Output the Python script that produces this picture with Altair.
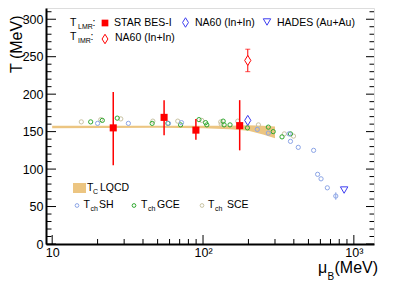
import altair as alt
import pandas as pd

# ---------------- data ----------------
star_mu = [25.4, 55.2, 89.7, 175]
star_T = [155, 169, 152, 158]
star_lo = [105, 145, 139, 125]
star_hi = [203, 192, 167, 192]

na60_lmr_mu = [198]
na60_lmr_T = [165]
na60_imr_mu = [198]
na60_imr_T = [245]
na60_imr_lo = [230]
na60_imr_hi = [260]

hades_mu = [862]
hades_T = [72]

lqcd_mu = [10, 50, 100, 150, 200, 250, 300]
lqcd_lo = [154.5, 155, 154.5, 153, 151, 146, 141]
lqcd_hi = [158, 158, 158, 158, 158.5, 158, 157]

sh_mu = [20, 32, 59, 72, 229, 271, 372, 380, 428, 541, 575, 606, 667, 759]
sh_T = [161, 161, 161, 162, 153, 148, 147, 137, 129, 125, 93, 87, 75, 64]
sh_err = [0, 0, 0, 0, 0, 0, 0, 0, 0, 0, 0, 0, 0, 5]

gce_mu = [18, 21.5, 27, 46, 58.5, 71, 94, 104, 106, 136, 138, 151, 197, 271, 292, 334, 380]
gce_T = [163, 165, 168, 161, 161, 159, 166, 162, 159, 164, 159, 159, 155, 156, 150, 143, 147]

sce_mu = [15.6, 21, 28.5, 46.5, 68, 98, 131, 132, 170, 233, 346, 398]
sce_T = [163, 166, 167, 164, 164, 165, 163, 160, 164, 159, 147, 144]

y_major = [0, 50, 100, 150, 200, 250, 300]
y_minor = [v for v in range(10, 315, 10) if v % 50 != 0]
x_major = [10, 100, 1000]
x_minor = [20, 30, 40, 50, 60, 70, 80, 90, 200, 300, 400, 500, 600, 700, 800, 900]

# ---------------- layout ----------------
W, H = 328, 236
FONT = "Liberation Sans"
RED = "#ff0000"
BLUE = "#3c3cf0"
SH_C = "#8ca5e6"
GCE_C = "#2fa82f"
SCE_C = "#c9c3a3"
BAND_C = "#ecc581"

xscale = alt.Scale(type="log", domain=[9.1, 1360], nice=False)
yscale = alt.Scale(domain=[0, 315], nice=False, zero=False)

xaxis = alt.Axis(values=x_major, ticks=False, tickSize=0, grid=False, domainColor="black",
                 domainWidth=2, labelFont=FONT, labelFontSize=12.5, labelColor="black",
                 labelPadding=2, title=None, labelFlush=False,
                 labelExpr="datum.value == 10 ? '10' : (datum.value == 100 ? '10²' : '10³')")
yaxis = alt.Axis(values=y_major, ticks=False, tickSize=0, grid=False, domainColor="black",
                 domainWidth=2, labelFont=FONT, labelFontSize=12.5, labelColor="black",
                 labelPadding=3, labelFlush=False,
                 title="T (MeV)", titleFont=FONT, titleFontSize=16, titleFontWeight="normal",
                 titleColor="black", titleAngle=270, titleAlign="right", titleAnchor="end",
                 titleBaseline="alphabetic", titleX=-24.5, titleY=7)


def X(field):
    return alt.X(field, type="quantitative", scale=xscale, axis=xaxis)


def Y(field):
    return alt.Y(field, type="quantitative", scale=yscale, axis=yaxis)


band_df = pd.DataFrame({"mu": lqcd_mu, "lo": lqcd_lo, "hi": lqcd_hi})
band = alt.Chart(band_df).mark_area(color=BAND_C, opacity=1).encode(
    x=X("mu"), y=Y("lo"), y2="hi")

sh_df = pd.DataFrame({"mu": sh_mu, "T": sh_T, "lo": [t - e for t, e in zip(sh_T, sh_err)],
                      "hi": [t + e for t, e in zip(sh_T, sh_err)]})
sh_err_l = alt.Chart(sh_df).mark_rule(color=SH_C, strokeWidth=1).encode(
    x=X("mu"), y=Y("lo"), y2="hi")
sh = alt.Chart(sh_df).mark_point(shape="circle", filled=False, color=SH_C,
                                 strokeWidth=1, size=18, opacity=1).encode(x=X("mu"), y=Y("T"))

gce_df = pd.DataFrame({"mu": gce_mu, "T": gce_T})
gce = alt.Chart(gce_df).mark_point(shape="circle", filled=False, color=GCE_C,
                                   strokeWidth=1, size=18, opacity=1).encode(x=X("mu"), y=Y("T"))

sce_df = pd.DataFrame({"mu": sce_mu, "T": sce_T})
sce = alt.Chart(sce_df).mark_point(shape="circle", filled=False, color=SCE_C,
                                   strokeWidth=1, size=18, opacity=1).encode(x=X("mu"), y=Y("T"))

star_df = pd.DataFrame({"mu": star_mu, "T": star_T, "lo": star_lo, "hi": star_hi})
star_err = alt.Chart(star_df).mark_rule(color=RED, strokeWidth=1.5).encode(
    x=X("mu"), y=Y("lo"), y2="hi")
star = alt.Chart(star_df).mark_point(shape="square", filled=True, color=RED, size=50,
                                     opacity=1).encode(x=X("mu"), y=Y("T"))

DIAMOND = "M0,-1L0.62,0L0,1L-0.62,0Z"

imr_df = pd.DataFrame({"mu": na60_imr_mu, "T": na60_imr_T, "lo": na60_imr_lo, "hi": na60_imr_hi})
imr_err = alt.Chart(imr_df).mark_rule(color=RED, strokeWidth=1).encode(
    x=X("mu"), y=Y("lo"), y2="hi")
imr_cap_lo = alt.Chart(imr_df).mark_tick(color=RED, thickness=1, size=5, orient="horizontal").encode(
    x=X("mu"), y=Y("lo"))
imr_cap_hi = alt.Chart(imr_df).mark_tick(color=RED, thickness=1, size=5, orient="horizontal").encode(
    x=X("mu"), y=Y("hi"))
imr_bg = alt.Chart(imr_df).mark_point(shape=DIAMOND, filled=True, color="white", size=100,
                                      opacity=1).encode(x=X("mu"), y=Y("T"))
imr = alt.Chart(imr_df).mark_point(shape=DIAMOND, filled=False, color=RED, size=100,
                                   strokeWidth=1, opacity=1).encode(x=X("mu"), y=Y("T"))

lmr_df = pd.DataFrame({"mu": na60_lmr_mu, "T": na60_lmr_T})
lmr = alt.Chart(lmr_df).mark_point(shape=DIAMOND, filled=False, color=BLUE, size=100,
                                   strokeWidth=1, opacity=1).encode(x=X("mu"), y=Y("T"))

hades_df = pd.DataFrame({"mu": hades_mu, "T": hades_T})
hades = alt.Chart(hades_df).mark_point(shape="triangle-down", filled=False, color=BLUE, size=55,
                                       strokeWidth=1, opacity=1).encode(x=X("mu"), y=Y("T"))

# ---------------- frame ticks (ROOT style, pointing inward) ----------------
ymaj_df = pd.DataFrame({"v": y_major})
ymin_df = pd.DataFrame({"v": y_minor})
xmaj_df = pd.DataFrame({"v": x_major})
xmin_df = pd.DataFrame({"v": x_minor})

tick_layers = [
    alt.Chart(ymaj_df).mark_rule(color="black", strokeWidth=1).encode(
        y=Y("v"), x=alt.value(0), x2=alt.value(10)),
    alt.Chart(ymin_df).mark_rule(color="black", strokeWidth=1).encode(
        y=Y("v"), x=alt.value(0), x2=alt.value(5.5)),
    alt.Chart(ymaj_df).mark_rule(color="black", strokeWidth=1).encode(
        y=Y("v"), x=alt.value(W), x2=alt.value(W - 8)),
    alt.Chart(ymin_df).mark_rule(color="black", strokeWidth=1).encode(
        y=Y("v"), x=alt.value(W), x2=alt.value(W - 4.5)),
    alt.Chart(xmaj_df).mark_rule(color="black", strokeWidth=1).encode(
        x=X("v"), y=alt.value(H), y2=alt.value(H - 9)),
    alt.Chart(xmin_df).mark_rule(color="black", strokeWidth=1).encode(
        x=X("v"), y=alt.value(H), y2=alt.value(H - 5)),
]

# ---------------- annotation text (legend, x title) ----------------
txt_rows = [
    # text, px, py, fontsize
    ("T", 24, 18, 10.5), ("LMR", 32, 21, 7), (":", 46.5, 18, 10.5),
    ("STAR BES-I", 68, 18, 10.5), ("NA60 (In+In)", 149, 18, 10.5), ("HADES (Au+Au)", 231, 18, 10.5),
    ("T", 24, 32, 10.5), ("IMR", 32, 35, 7), (":", 44.5, 32, 10.5),
    ("NA60 (In+In)", 69, 32.5, 10.5),
    ("T", 41, 183, 10.5), ("C", 47, 186, 7), ("LQCD", 54, 183, 10.5),
    ("T", 37.5, 200, 10.5), ("ch", 44.5, 203, 7), ("SH", 53, 200, 10.5),
    ("T", 95, 200, 10.5), ("ch", 102, 203, 7), ("GCE", 111, 200, 10.5),
    ("T", 162, 200, 10.5), ("ch", 169, 203, 7), ("SCE", 181, 200, 10.5),
    ("μ", 272, 265, 16), ("B", 281.5, 272, 10), ("(MeV)", 288.5, 265, 16),
]
txt_df = pd.DataFrame(txt_rows, columns=["t", "px", "py", "fs"])
texts = alt.Chart(txt_df).mark_text(align="left", baseline="alphabetic", font=FONT,
                                    color="black").encode(
    x=alt.X("px:Q", scale=None, axis=None),
    y=alt.Y("py:Q", scale=None, axis=None),
    size=alt.Size("fs:Q", scale=None, legend=None),
    text="t:N")

# legend symbols
one = pd.DataFrame({"a": [0]})
leg = [
    alt.Chart(one).mark_point(shape="square", filled=True, color=RED, size=45, opacity=1).encode(
        x=alt.value(59), y=alt.value(15)),
    alt.Chart(one).mark_point(shape=DIAMOND, filled=False, color=BLUE, size=90, strokeWidth=1,
                              opacity=1).encode(x=alt.value(139.5), y=alt.value(14.5)),
    alt.Chart(one).mark_point(shape="triangle-down", filled=False, color=BLUE, size=55, strokeWidth=1,
                              opacity=1).encode(x=alt.value(221), y=alt.value(14)),
    alt.Chart(one).mark_point(shape=DIAMOND, filled=False, color=RED, size=90, strokeWidth=1,
                              opacity=1).encode(x=alt.value(59), y=alt.value(31)),
    alt.Chart(one).mark_rect(color=BAND_C).encode(
        x=alt.value(27), x2=alt.value(40), y=alt.value(175), y2=alt.value(185)),
    alt.Chart(one).mark_point(shape="circle", filled=False, color=SH_C, size=14, strokeWidth=1,
                              opacity=1).encode(x=alt.value(31), y=alt.value(197.5)),
    alt.Chart(one).mark_point(shape="circle", filled=False, color=GCE_C, size=14, strokeWidth=1,
                              opacity=1).encode(x=alt.value(88), y=alt.value(197.5)),
    alt.Chart(one).mark_point(shape="circle", filled=False, color=SCE_C, size=14, strokeWidth=1,
                              opacity=1).encode(x=alt.value(156), y=alt.value(197.5)),
]

chart = alt.layer(
    band, sce, gce, sh_err_l, sh, star_err, star, imr_err, imr_cap_lo, imr_cap_hi, imr_bg, imr,
    lmr, hades, *tick_layers, texts, *leg
).properties(
    width=W, height=H,
    autosize=alt.AutoSizeParams(type="none"),
    padding={"left": 38, "top": 0, "right": 10, "bottom": 38},
).configure_view(
    stroke="black", strokeWidth=1.2
).configure(font=FONT)

chart.save("out.html", embed_options={"renderer": "svg", "actions": False})
